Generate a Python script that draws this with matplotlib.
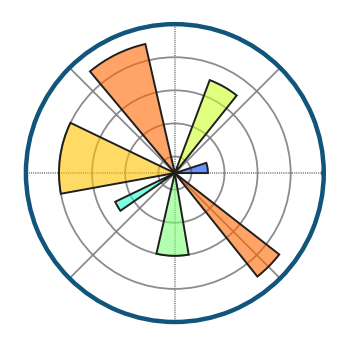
import numpy as np
import matplotlib
matplotlib.use('Agg')
import matplotlib.pyplot as plt
from matplotlib import cm

# polar bar data (matplotlib logo style)
n_bars = 7
radii = [2, 6, 8, 7, 4, 5, 8]
width_frac = [0.4, 0.4, 0.6, 0.8, 0.2, 0.5, 0.3]
r_ticks = [1, 3, 5, 7]
r_max = 9

border_blue = '#11557c'

theta = np.arange(n_bars) * 2 * np.pi / n_bars
width = np.pi / 4 * np.array(width_frac)

fig = plt.figure(figsize=(3.5, 3.5), dpi=100)
with plt.rc_context({'axes.edgecolor': border_blue, 'axes.linewidth': 3.2}):
    ax = fig.add_axes([0.074, 0.08, 0.851, 0.851], projection='polar')
ax.set_axisbelow(True)

bars = ax.bar(theta, radii, width=width, bottom=0.0, align='edge',
              edgecolor='0.12', lw=1.4)
for r, bar in zip(radii, bars):
    bar.set_facecolor((*cm.jet(r / 10.)[:3], 0.6))

ax.tick_params(labelbottom=False, labeltop=False,
               labelleft=False, labelright=False)
ax.grid(lw=1.3, alpha=0.9, ls='-', color='0.5')
ax.set_yticks(r_ticks)
ax.set_rmax(r_max)

# the straight 0/90/180/270 spokes look finely dotted in the reference
for i, gl in enumerate(ax.xaxis.get_gridlines()):
    if i % 2 == 0:
        gl.set_linestyle((0, (0.6, 0.6)))

fig.savefig('out.png', dpi=100)
